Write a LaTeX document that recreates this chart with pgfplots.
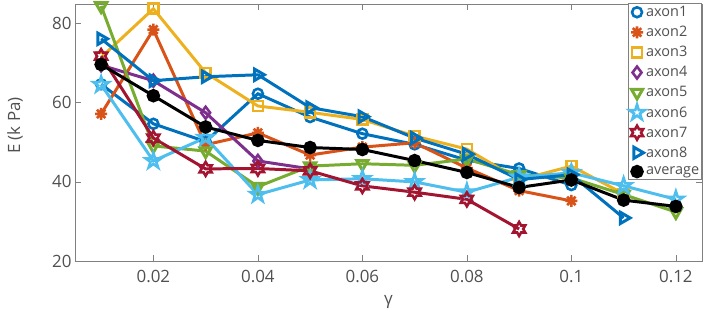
\documentclass[border=0pt]{standalone}
\usepackage{fontspec}
\setmainfont{Open Sans}
\usepackage{pgfplots}
\pgfplotsset{compat=1.18}
\usetikzlibrary{plotmarks}

\definecolor{c1}{RGB}{0,114,189}
\definecolor{c2}{RGB}{217,83,25}
\definecolor{c3}{RGB}{237,177,32}
\definecolor{c4}{RGB}{126,47,142}
\definecolor{c5}{RGB}{119,172,48}
\definecolor{c6}{RGB}{77,190,238}
\definecolor{c7}{RGB}{162,20,47}
\definecolor{axgray}{RGB}{128,128,128}
\definecolor{txtgray}{RGB}{80,80,80}

\pgfdeclareplotmark{mlstar}{%
  \pgfpathmoveto{\pgfpointpolar{0}{\pgfplotmarksize}}\pgfpathlineto{\pgfpointpolar{180}{\pgfplotmarksize}}%
  \pgfpathmoveto{\pgfpointpolar{45}{\pgfplotmarksize}}\pgfpathlineto{\pgfpointpolar{225}{\pgfplotmarksize}}%
  \pgfpathmoveto{\pgfpointpolar{90}{\pgfplotmarksize}}\pgfpathlineto{\pgfpointpolar{270}{\pgfplotmarksize}}%
  \pgfpathmoveto{\pgfpointpolar{135}{\pgfplotmarksize}}\pgfpathlineto{\pgfpointpolar{315}{\pgfplotmarksize}}%
  \pgfusepathqstroke}
\pgfdeclareplotmark{pentagram}{%
  \pgfpathmoveto{\pgfpointpolar{90}{\pgfplotmarksize}}%
  \pgfpathlineto{\pgfpointpolar{126}{0.382\pgfplotmarksize}}%
  \pgfpathlineto{\pgfpointpolar{162}{\pgfplotmarksize}}%
  \pgfpathlineto{\pgfpointpolar{198}{0.382\pgfplotmarksize}}%
  \pgfpathlineto{\pgfpointpolar{234}{\pgfplotmarksize}}%
  \pgfpathlineto{\pgfpointpolar{270}{0.382\pgfplotmarksize}}%
  \pgfpathlineto{\pgfpointpolar{306}{\pgfplotmarksize}}%
  \pgfpathlineto{\pgfpointpolar{342}{0.382\pgfplotmarksize}}%
  \pgfpathlineto{\pgfpointpolar{18}{\pgfplotmarksize}}%
  \pgfpathlineto{\pgfpointpolar{54}{0.382\pgfplotmarksize}}%
  \pgfpathclose\pgfusepathqstroke}
\pgfdeclareplotmark{hexagram}{%
  \pgfpathmoveto{\pgfpointpolar{90}{\pgfplotmarksize}}%
  \pgfpathlineto{\pgfpointpolar{120}{0.577\pgfplotmarksize}}%
  \pgfpathlineto{\pgfpointpolar{150}{\pgfplotmarksize}}%
  \pgfpathlineto{\pgfpointpolar{180}{0.577\pgfplotmarksize}}%
  \pgfpathlineto{\pgfpointpolar{210}{\pgfplotmarksize}}%
  \pgfpathlineto{\pgfpointpolar{240}{0.577\pgfplotmarksize}}%
  \pgfpathlineto{\pgfpointpolar{270}{\pgfplotmarksize}}%
  \pgfpathlineto{\pgfpointpolar{300}{0.577\pgfplotmarksize}}%
  \pgfpathlineto{\pgfpointpolar{330}{\pgfplotmarksize}}%
  \pgfpathlineto{\pgfpointpolar{0}{0.577\pgfplotmarksize}}%
  \pgfpathlineto{\pgfpointpolar{30}{\pgfplotmarksize}}%
  \pgfpathlineto{\pgfpointpolar{60}{0.577\pgfplotmarksize}}%
  \pgfpathclose\pgfusepathqstroke}

\begin{document}
\begin{tikzpicture}
\begin{axis}[
  scale only axis, width=627bp, height=257bp,
  xmin=0.005, xmax=0.125, ymin=20, ymax=85,
  xtick={0.02,0.04,0.06,0.08,0.1,0.12},
  xticklabels={0.02,0.04,0.06,0.08,0.1,0.12},
  ytick={20,40,60,80}, yticklabels={20,40,60,80},
  tick align=inside, major tick length=6bp,
  axis line style={draw=axgray, line width=0.7pt},
  tick style={draw=axgray, line width=0.7pt},
  ticklabel style={font=\fontsize{17}{20}\selectfont, text=txtgray},
  xticklabel style={yshift=-6bp},
  xlabel={γ}, ylabel={E (k Pa)},
  label style={font=\fontsize{17}{20}\selectfont, text=txtgray},
  xlabel style={at={(axis description cs:0.5,-0.16)}, anchor=center},
  ylabel style={at={(axis description cs:-0.0957,0.527)}, anchor=center},
  ml/.style={line width=3pt, mark options={solid, line width=2.6pt}},
  legend cell align=left,
  legend image code/.code={\draw[#1,only marks] plot coordinates {(0.12cm,0cm)};},
  legend style={at={(1,1)}, anchor=north east, yshift=1bp, draw=axgray, line width=0.7pt,
    font=\fontsize{14.5}{16}\selectfont, text=txtgray, inner sep=1bp, row sep=4.2bp,
    nodes={inner xsep=1.5bp}},
]
\addplot[ml, c1, mark=o, mark size=5pt] coordinates {
(0.01,64.7) (0.02,54.7) (0.03,50.2) (0.04,62.3) (0.05,56.4) (0.06,52.2) (0.07,49.5) (0.08,45.5) (0.09,43.4) (0.1,39.2)};
\addlegendentry{axon1}
\addplot[ml, c2, mark=mlstar, mark size=6pt] coordinates {
(0.01,57.2) (0.02,78.5) (0.03,49.4) (0.04,52.4) (0.05,46.8) (0.06,48.8) (0.07,49.9) (0.08,43.5) (0.09,37.8) (0.1,35.2)};
\addlegendentry{axon2}
\addplot[ml, c3, mark=square, mark size=5pt] coordinates {
(0.01,71.5) (0.02,83.8) (0.03,67.6) (0.04,59.2) (0.05,57.6) (0.06,55.8) (0.07,51.6) (0.08,48.3) (0.09,40.5) (0.1,44) (0.11,37)};
\addlegendentry{axon3}
\addplot[ml, c4, mark=diamond, mark size=6pt] coordinates {
(0.01,69.5) (0.02,65.6) (0.03,57.5) (0.04,45.3) (0.05,43.3)};
\addlegendentry{axon4}
\addplot[ml, c5, mark=triangle, mark options={rotate=180}, mark size=6.5pt] coordinates {
(0.01,84.5) (0.02,49.1) (0.03,47.8) (0.04,38.8) (0.05,44) (0.06,44.6) (0.07,44.2) (0.08,45.8) (0.09,41.8) (0.1,41) (0.11,36.8) (0.12,32.4)};
\addlegendentry{axon5}
\addplot[ml, c6, mark=pentagram, mark size=8pt] coordinates {
(0.01,64.6) (0.02,45.3) (0.03,51.2) (0.04,36.8) (0.05,40.5) (0.06,40.8) (0.07,40) (0.08,37.4) (0.09,41.2) (0.1,42.3) (0.11,39) (0.12,35.6)};
\addlegendentry{axon6}
\addplot[ml, c7, mark=hexagram, mark size=7pt] coordinates {
(0.01,71.8) (0.02,51.1) (0.03,43.3) (0.04,43.4) (0.05,42.8) (0.06,39) (0.07,37.4) (0.08,35.6) (0.09,28.1)};
\addlegendentry{axon7}
\addplot[ml, c1, mark=triangle, mark options={rotate=-90}, mark size=6.5pt] coordinates {
(0.01,76.2) (0.02,65.6) (0.03,66.6) (0.04,67.1) (0.05,58.8) (0.06,56.5) (0.07,51.1) (0.08,47) (0.09,40.6) (0.1,41.8) (0.11,30.9)};
\addlegendentry{axon8}
\addplot[ml, black, mark=*, mark size=5.5pt] coordinates {
(0.01,69.7) (0.02,61.8) (0.03,53.9) (0.04,50.5) (0.05,48.7) (0.06,48.2) (0.07,45.4) (0.08,42.4) (0.09,38.6) (0.1,40.5) (0.11,35.4) (0.12,33.8)};
\addlegendentry{average}
\end{axis}
\pgfresetboundingbox
\path (-75bp,-53bp) rectangle (633bp,261bp);
\end{tikzpicture}
\end{document}
